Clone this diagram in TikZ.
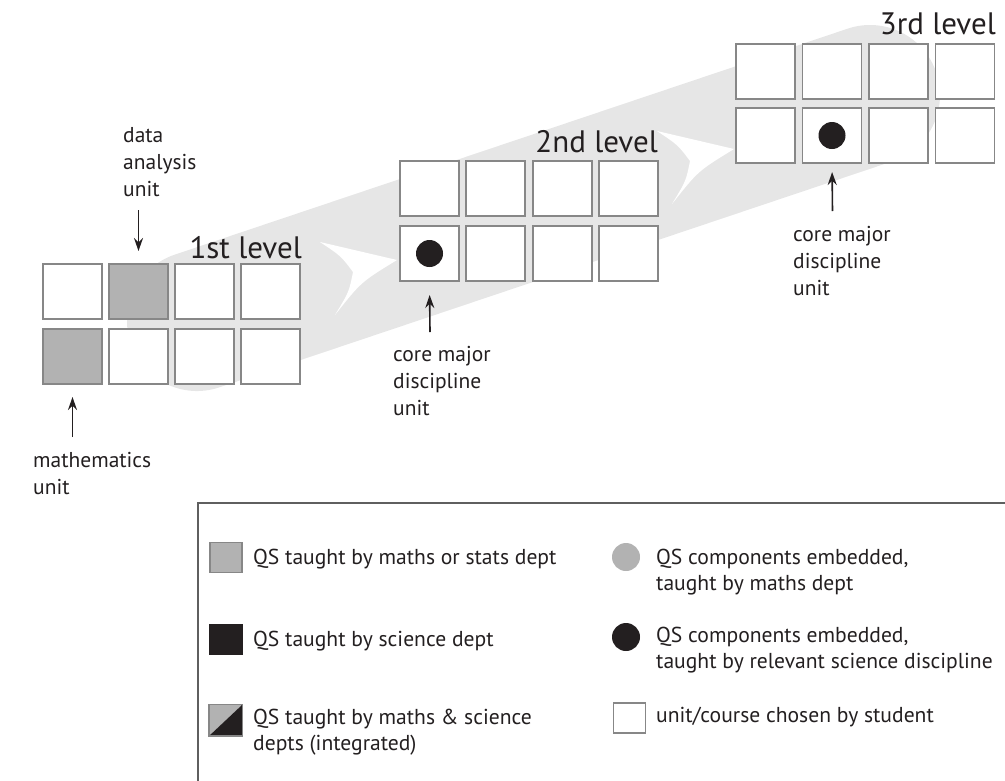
\documentclass[tikz,border=0pt]{standalone}
\usepackage{fontspec}
\setmainfont{PT Sans}
\usetikzlibrary{arrows.meta}
\definecolor{bandgray}{RGB}{230,230,230}
\definecolor{boxedge}{RGB}{135,135,135}
\definecolor{qsgray}{RGB}{178,178,178}
\definecolor{ink}{RGB}{35,31,32}
\definecolor{legedge}{RGB}{95,95,95}
\begin{document}
\begin{tikzpicture}[x=1pt,y=-1pt,
  unit/.style={draw=boxedge,line width=1.8pt,minimum width=59pt,minimum height=55pt,inner sep=0pt,outer sep=0pt,anchor=north west},
  dot/.style={circle,fill=ink,minimum size=27pt,inner sep=0pt},
  lvl/.style={font=\fontsize{31}{36}\selectfont,text=ink,inner sep=0pt,anchor=base east},
  lbl/.style={font=\fontsize{21.5}{26.8}\selectfont,text=ink,inner sep=0pt,align=left,anchor=base west},
  leg/.style={font=\fontsize{21.6}{25.5}\selectfont,text=ink,inner sep=0pt,align=left,anchor=base west},
  ptr/.style={draw=ink,line width=1.6pt,-{Stealth[length=13pt,width=9pt]}},
  legsq/.style={draw=boxedge,line width=1.5pt,minimum width=32pt,minimum height=30pt,inner sep=0pt,anchor=north west},
  legdot/.style={circle,minimum size=28pt,inner sep=0pt}]
\useasboundingbox (0,0) rectangle (1005,780);
\clip (0,0) rectangle (1005,780);
% band
\draw[bandgray,line width=140pt,line cap=round] (197,321) -- (870,95);
% chevrons
\foreach \tx/\ty in {397/260,734/149}{
  \fill[white,shift={(\tx,\ty)}] (-77,-18) -- (0,0) .. controls (-36,22) .. (-62,55)
     .. controls (-48,32) .. (-44,12) .. controls (-56,-4) .. (-77,-18) -- cycle;
}
% level 1
\foreach \c/\r/\f in {0/0/white,1/0/qsgray,2/0/white,3/0/white,0/1/qsgray,1/1/white,2/1/white,3/1/white}
  \node[unit,fill=\f] (a\r\c) at ({43+66*\c},{264+65*\r}) {};
% level 2
\foreach \c/\r in {0/0,1/0,2/0,3/0,0/1,1/1,2/1,3/1}
  \node[unit,fill=white] (b\r\c) at ({400+66.3*\c},{161+65*\r}) {};
% level 3
\foreach \c/\r in {0/0,1/0,2/0,3/0,0/1,1/1,2/1,3/1}
  \node[unit,fill=white] (c\r\c) at ({736+66.5*\c},{44+64*\r}) {};
% dots
\node[dot] (dot2) at (b10.center) {};
\node[dot] (dot3) at (c11.center) {};
% level labels
\node[lvl] (t1) at (302,258) {1st level};
\node[lvl] (t2) at (658,152) {2nd level};
\node[lvl] (t3) at (996,34) {3rd level};
% annotations (base = last line)
\node[lbl] (nda) at (123,196) {data\\analysis\\unit};
\coordinate (pda) at (138.5,210);
\draw[ptr,shorten >=13pt] (pda) -- (a01.north);
\node[lbl] (nma) at (33,494) {mathematics\\unit};
\coordinate (pma) at (72.5,437);
\draw[ptr,shorten >=13pt] (pma) -- (a10.south);
\node[lbl] (nc2) at (393,415) {core major\\discipline\\unit};
\coordinate (pc2) at (430,332);
\draw[ptr,shorten >=14pt] (pc2) -- (b10.south);
\node[lbl] (nc3) at (793,295) {core major\\discipline\\unit};
\coordinate (pc3) at (832.5,211);
\draw[ptr,shorten >=9pt] (pc3) -- (c11.south);
% legend
\draw[legedge,line width=2pt] (198,503) rectangle (1030,800);
\node[legsq,fill=qsgray] (k1) at (209,541.5) {};
\node[leg] (k1t) at (253,564) {QS taught by maths or stats dept};
\node[legsq,fill=ink,draw=ink] (k2) at (209,623.5) {};
\node[leg] (k2t) at (253,646) {QS taught by science dept};
\node[legsq] (k3) at (209,704.5) {};
\fill[qsgray] (k3.south west) -- (k3.north west) -- (k3.north east) -- cycle;
\fill[ink] (k3.south west) -- (k3.south east) -- (k3.north east) -- cycle;
\draw[boxedge,line width=1.5pt] (k3.south west) rectangle (k3.north east);
\node[leg] (k3t) at (253,750) {QS taught by maths \& science\\depts (integrated)};
\node[legdot,fill=qsgray] (k4) at (626,557) {};
\node[leg] (k4t) at (656,590) {QS components embedded,\\taught by maths dept};
\node[legdot,fill=ink] (k5) at (626,637) {};
\node[leg] (k5t) at (656,668) {QS components embedded,\\taught by relevant science discipline};
\node[legsq,fill=white] (k6) at (612.5,702) {};
\node[leg] (k6t) at (656,722) {unit/course chosen by student};
\end{tikzpicture}
\end{document}
